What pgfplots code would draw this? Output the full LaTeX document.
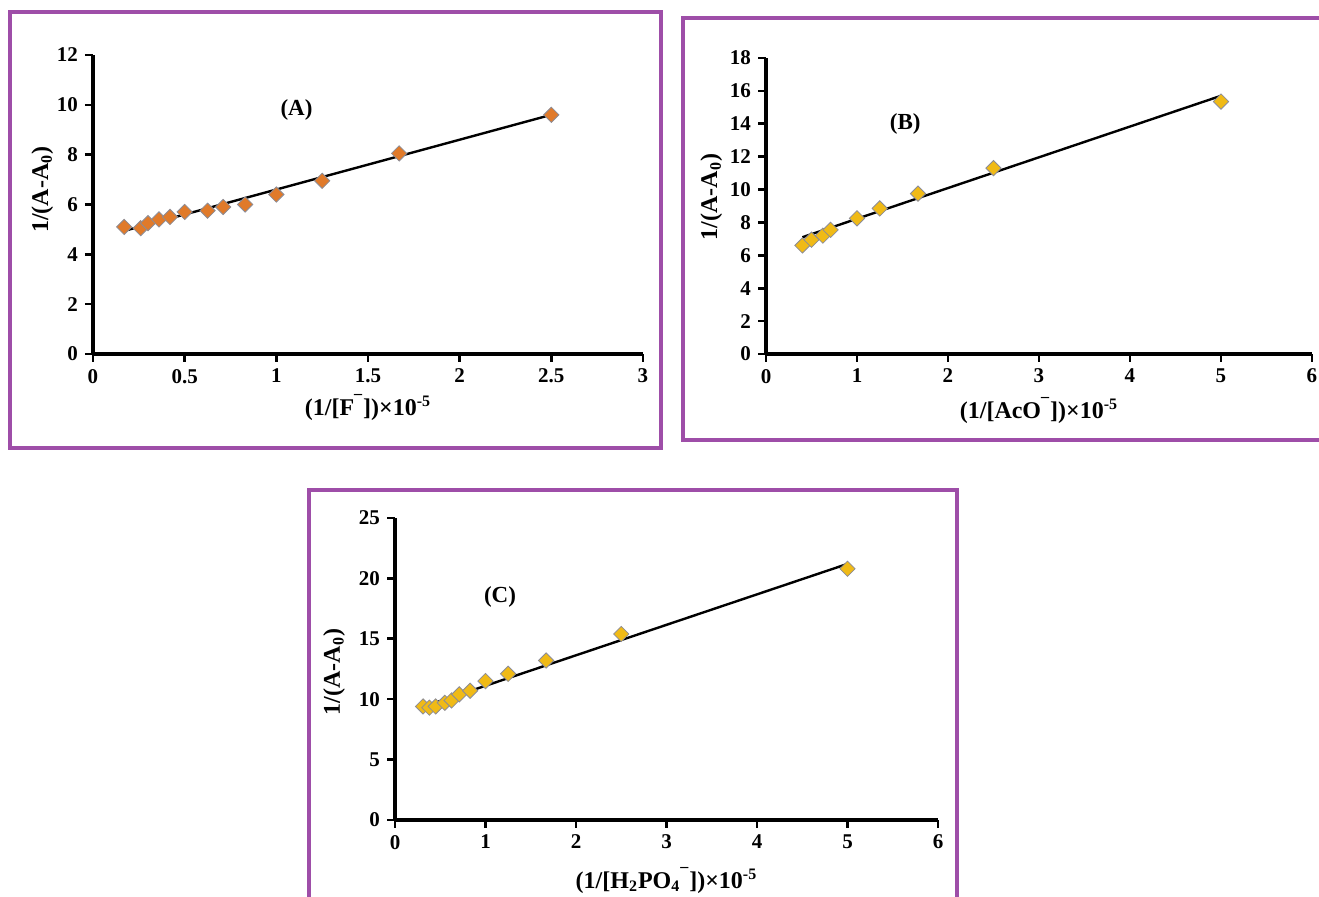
\documentclass[border=0pt]{standalone}
\usepackage{pgfplots}
\pgfplotsset{compat=1.18}
\usepackage{fontspec}
\setmainfont{Liberation Serif}
\definecolor{frame}{RGB}{158,78,168}
\definecolor{orangeM}{RGB}{224,122,42}
\definecolor{goldM}{RGB}{240,186,22}
\definecolor{edgeM}{RGB}{140,140,150}
\pgfplotsset{
  panel/.style={
    scale only axis,
    axis lines=left,
    axis line style={-, line width=1.6pt},
    tick style={line width=1.3pt, black},
    major tick length=4pt,
    tick align=outside,
    xtick pos=bottom, ytick pos=left,
    ticklabel style={font=\bfseries\fontsize{10.5}{12}\selectfont},
    /pgf/number format/assume math mode=true,
    label style={font=\bfseries\fontsize{12}{14}\selectfont},
    clip=false,
  },
  pts/.style={only marks, mark=square*, mark options={rotate=45, draw=edgeM, line width=0.4pt, fill=#1}, mark size=2.7pt},
  fit/.style={black, line width=1.2pt, no marks},
}
\begin{document}
\begin{tikzpicture}
\useasboundingbox (0,0) rectangle (659.5pt,448.5pt);
% frames
\draw[frame, line width=2pt] (5pt,224.5pt) rectangle (330.5pt,442.5pt);
\draw[frame, line width=2pt] (341.5pt,228.5pt) rectangle (668pt,439.5pt);
\draw[frame, line width=2pt] (154.5pt,-5pt) rectangle (478.5pt,203.5pt);

% Panel A
\begin{axis}[panel, at={(46.5pt,271.5pt)}, anchor=south west,
  width=275pt, height=149.5pt,
  xmin=0, xmax=3, ymin=0, ymax=12,
  xtick={0,0.5,1,1.5,2,2.5,3}, ytick={0,2,4,6,8,10,12},
  xticklabel style={/pgf/number format/fixed},
  xlabel={(1/[F\textsuperscript{¯}])×10\textsuperscript{-5}},
  ylabel={1/(A-A\textsubscript{0})},
  xlabel style={at={(axis description cs:0.5,-0.18)}, anchor=center},
  ylabel style={at={(axis description cs:-0.092,0.55)}, anchor=center},
  ]
\addplot[fit] coordinates {(0.17,4.94) (2.5,9.6)};
\addplot[pts=orangeM] coordinates {
(0.17,5.1) (0.26,5.05) (0.30,5.25) (0.36,5.4) (0.42,5.5) (0.5,5.7)
(0.625,5.75) (0.71,5.9) (0.83,6.0) (1.0,6.4) (1.25,6.95) (1.67,8.05) (2.5,9.6)};
\node[font=\bfseries\fontsize{11.5}{12}\selectfont] at (axis cs:1.11,9.8) {(A)};
\end{axis}

% Panel B
\begin{axis}[panel, at={(383pt,271.5pt)}, anchor=south west,
  width=273pt, height=148pt,
  xmin=0, xmax=6, ymin=0, ymax=18,
  xtick={0,1,...,6}, ytick={0,2,...,18},
  xlabel={(1/[AcO\textsuperscript{¯}])×10\textsuperscript{-5}},
  ylabel={1/(A-A\textsubscript{0})},
  xlabel style={at={(axis description cs:0.5,-0.19)}, anchor=center},
  ylabel style={at={(axis description cs:-0.10,0.53)}, anchor=center},
  ]
\addplot[fit] coordinates {(0.4,7.1) (5.0,15.7)};
\addplot[pts=goldM] coordinates {
(0.4,6.6) (0.5,6.95) (0.625,7.2) (0.71,7.55) (1.0,8.25) (1.25,8.85) (1.67,9.75) (2.5,11.3) (5.0,15.35)};
\node[font=\bfseries\fontsize{11.5}{12}\selectfont] at (axis cs:1.53,14.0) {(B)};
\end{axis}

% Panel C
\begin{axis}[panel, at={(197.5pt,38.5pt)}, anchor=south west,
  width=271.5pt, height=151pt,
  xmin=0, xmax=6, ymin=0, ymax=25,
  xtick={0,1,...,6}, ytick={0,5,...,25},
  xlabel={(1/[H\textsubscript{2}PO\textsubscript{4}\textsuperscript{¯}])×10\textsuperscript{-5}},
  ylabel={1/(A-A\textsubscript{0})},
  xlabel style={at={(axis description cs:0.5,-0.2)}, anchor=center},
  ylabel style={at={(axis description cs:-0.112,0.49)}, anchor=center},
  ]
\addplot[fit] coordinates {(0.31,9.37) (5.0,21.2)};
\addplot[pts=goldM] coordinates {
(0.31,9.4) (0.38,9.3) (0.45,9.4) (0.55,9.7) (0.625,9.9) (0.71,10.4) (0.83,10.7)
(1.0,11.5) (1.25,12.1) (1.67,13.2) (2.5,15.4) (5.0,20.8)};
\node[font=\bfseries\fontsize{11.5}{12}\selectfont] at (axis cs:1.16,18.46) {(C)};
\end{axis}
\end{tikzpicture}
\end{document}
